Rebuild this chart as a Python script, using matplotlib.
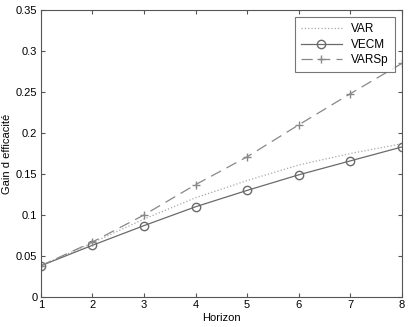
import matplotlib.pyplot as plt

plt.rcParams['font.family'] = ['Liberation Sans', 'DejaVu Sans']

horizon = [1, 2, 3, 4, 5, 6, 7, 8]
var = [0.038, 0.066, 0.095, 0.121, 0.142, 0.161, 0.175, 0.187]
vecm = [0.038, 0.063, 0.087, 0.110, 0.130, 0.149, 0.166, 0.183]
varsp = [0.038, 0.067, 0.100, 0.137, 0.171, 0.210, 0.248, 0.285]

fig = plt.figure(figsize=(4.08, 3.27), dpi=100)
ax = fig.add_axes([0.1, 0.092, 0.885, 0.877])

ax.plot(horizon, var, color='#a8a8a8', linestyle=':', linewidth=0.9, label='VAR')
ax.plot(horizon, vecm, color='#6a6a6a', linestyle='-', linewidth=0.9,
        marker='o', markersize=6, markerfacecolor='none', label='VECM')
ax.plot(horizon, varsp, color='#888888', linestyle=(0, (9, 5)), linewidth=0.9,
        marker='+', markersize=6, label='VARSp')

ax.set_xlim(1, 8)
ax.set_ylim(0, 0.35)
ax.set_xticks(horizon)
ax.set_yticks([0, 0.05, 0.1, 0.15, 0.2, 0.25, 0.3, 0.35])
ax.set_yticklabels(['0', '0.05', '0.1', '0.15', '0.2', '0.25', '0.3', '0.35'])
ax.tick_params(direction='in', top=True, right=True, labelsize=8, length=3,
               pad=2.5, color='#555555')
for s in ax.spines.values():
    s.set_color('#555555')
    s.set_linewidth(0.8)

ax.set_xlabel('Horizon', fontsize=8, labelpad=2)
ax.set_ylabel('Gain d efficacité', fontsize=8, labelpad=3)

leg = ax.legend(loc='upper right', fontsize=8.5, fancybox=False, edgecolor='#555555',
                handlelength=3.5, borderaxespad=0.6, labelspacing=0.3, borderpad=0.5)
leg.get_frame().set_linewidth(0.8)

fig.savefig('out.png', dpi=100)
